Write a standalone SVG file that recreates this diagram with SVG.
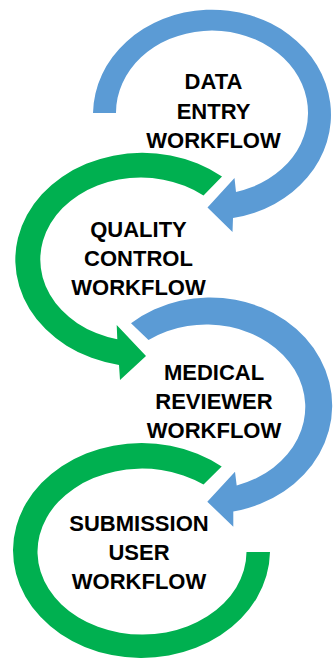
<svg xmlns="http://www.w3.org/2000/svg" width="335" height="659" viewBox="0 0 335 659">
  <style>
    .blue { fill: #5B9BD5; }
    .green { fill: #00B050; }
    .lbl { font-family: "Liberation Sans", Arial, sans-serif; font-weight: bold; font-size: 22px; fill: #000; text-anchor: middle; }
  </style>
  <rect width="335" height="659" fill="#ffffff"/>
  <g id="node-data-entry">
    <path class="blue" d="M 93 113 A 119 105 0 1 1 233 218 L 232.5 232 L 207.5 207.5 L 234.5 178 L 236 192 A 96 82 0 1 0 116 113 Z"/>
    <text class="lbl" x="213.5" y="89">DATA</text>
    <text class="lbl" x="213.5" y="118.5">ENTRY</text>
    <text class="lbl" x="213.5" y="148">WORKFLOW</text>
  </g>
  <g id="node-quality-control">
    <path class="green" d="M 222 176.5 A 127 107 0 1 0 119 365 L 120 380 L 146 356 L 116.7 325 L 117.3 339.3 A 100.5 82 0 1 1 203.5 195.5 Z"/>
    <text class="lbl" x="138.5" y="237">QUALITY</text>
    <text class="lbl" x="138.5" y="266">CONTROL</text>
    <text class="lbl" x="138.5" y="295">WORKFLOW</text>
  </g>
  <g id="node-medical-reviewer">
    <path class="blue" d="M 131 323.3 A 122 108 0 1 1 233.3 511.5 L 233.3 526.7 L 207.3 501.7 L 235 471.7 L 236.7 485.5 A 99 82.5 0 1 0 148.5 340 Z"/>
    <text class="lbl" x="214" y="380">MEDICAL</text>
    <text class="lbl" x="214" y="409">REVIEWER</text>
    <text class="lbl" x="214" y="438">WORKFLOW</text>
  </g>
  <g id="node-submission-user">
    <path class="green" d="M 221.7 466.5 A 128.5 107.5 0 1 0 270 552 L 246.5 552 A 104.5 83 0 1 1 203.5 484.5 Z"/>
    <text class="lbl" x="139" y="530.5">SUBMISSION</text>
    <text class="lbl" x="139" y="560">USER</text>
    <text class="lbl" x="139" y="589">WORKFLOW</text>
  </g>
  <g id="connectors"/>
</svg>
